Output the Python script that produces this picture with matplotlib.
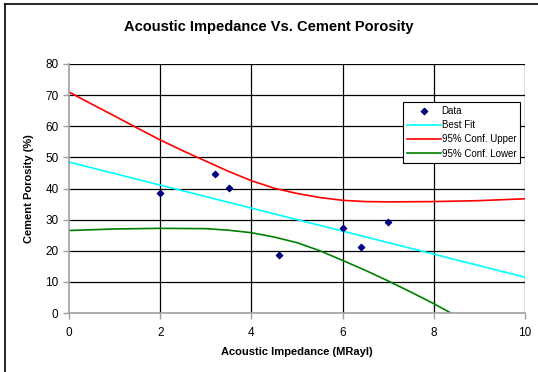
import matplotlib
matplotlib.use('Agg')
from matplotlib import pyplot as plt
from matplotlib.lines import Line2D

data_x = [2.0, 3.2, 3.5, 4.6, 6.0, 6.4, 7.0]
data_y = [38.7, 44.5, 40.3, 18.7, 27.3, 21.2, 29.3]

fit_x = [0, 10]
fit_y = [48.5, 11.5]

upper_x = [0, 0.5, 1, 1.5, 2, 2.5, 3, 3.5, 4, 4.5, 5, 5.5, 6, 6.5, 7, 8, 9, 10]
upper_y = [71, 67.1, 63.3, 59.4, 55.6, 52.1, 48.8, 45.5, 42.5, 40.1, 38.4, 37.1,
           36.2, 35.8, 35.7, 35.8, 36.1, 36.7]

lower_x = [0, 1, 2, 3, 3.5, 4, 4.5, 5, 5.5, 6, 6.5, 7, 7.5, 8, 8.5]
lower_y = [26.5, 27.0, 27.2, 27.1, 26.6, 25.8, 24.4, 22.6, 20.0, 16.9, 13.7, 10.3,
           6.7, 3.0, -1.0]

x_ticks = [0, 2, 4, 6, 8, 10]
y_ticks = [0, 10, 20, 30, 40, 50, 60, 70, 80]

plt.rcParams['font.family'] = ['Liberation Sans', 'DejaVu Sans']

fig = plt.figure(figsize=(5.38, 3.72), dpi=100)
ax = fig.add_axes([69 / 538, 1 - 313 / 372, 456 / 538, 249 / 372])

# outer chart frame (left and top visible)
fig.add_artist(Line2D([5 / 538, 5 / 538], [0, 1 - 4 / 372], color='black', lw=1.2))
fig.add_artist(Line2D([5 / 538, 1], [1 - 4 / 372, 1 - 4 / 372], color='black', lw=1.2))

for y in y_ticks[1:]:
    ax.axhline(y, color='black', lw=0.9, zorder=1)
for x in x_ticks[1:]:
    ax.axvline(x, color='black', lw=0.9, zorder=1)

ax.plot(fit_x, fit_y, color='#00ffff', lw=1.2, label='Best Fit', zorder=2)
ax.plot(upper_x, upper_y, color='#ff0000', lw=1.2, label='95% Conf. Upper', zorder=2)
ax.plot(lower_x, lower_y, color='#008000', lw=1.2, label='95% Conf. Lower', zorder=2)
ax.scatter(data_x, data_y, marker='D', s=10, color='#000080', label='Data', zorder=3)

ax.set_xlim(0, 10)
ax.set_ylim(0, 80)
ax.set_xticks(x_ticks)
ax.set_yticks(y_ticks)
ax.tick_params(labelsize=8.5, color='#a0a0a0', length=4, width=1)
ax.tick_params(axis='x', pad=6)
for side in ['left', 'bottom']:
    ax.spines[side].set_color('#a0a0a0')
    ax.spines[side].set_linewidth(1.2)
for side in ['top', 'right']:
    ax.spines[side].set_visible(False)

ax.set_xlabel('Acoustic Impedance (MRayl)', fontsize=8, fontweight='bold', labelpad=6)
ax.set_ylabel('Cement Porosity (%)', fontsize=8, fontweight='bold', labelpad=8)
fig.suptitle('Acoustic Impedance Vs. Cement Porosity', fontsize=10.5, fontweight='bold', y=0.945)

handles, labels = ax.get_legend_handles_labels()
order = [3, 0, 1, 2]
leg = ax.legend([handles[i] for i in order], [labels[i] for i in order],
                loc='upper left', bbox_to_anchor=(329 / 456, 1 - 33 / 249),
                fontsize=7, frameon=True, fancybox=False, edgecolor='black',
                framealpha=1, borderpad=0.4, labelspacing=0.45, handlelength=3.5,
                handletextpad=0.1)
leg.get_frame().set_linewidth(0.8)

plt.savefig('out.png', dpi=100)
